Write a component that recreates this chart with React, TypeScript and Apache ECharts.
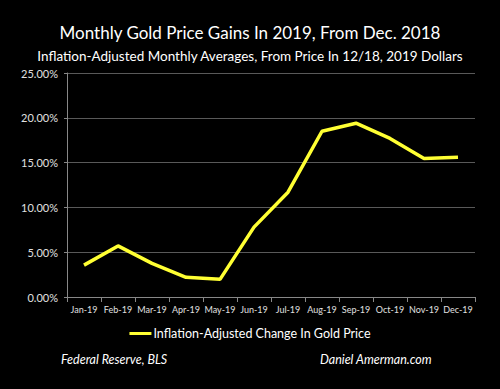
import React, { useEffect, useRef } from "react";
import * as echarts from "echarts";

const months = ["Jan-19","Feb-19","Mar-19","Apr-19","May-19","Jun-19","Jul-19","Aug-19","Sep-19","Oct-19","Nov-19","Dec-19"];
const gains = [3.56, 5.7, 3.75, 2.2, 1.97, 7.8, 11.7, 18.5, 19.4, 17.7, 15.45, 15.6];
const seriesName = "Inflation-Adjusted Change In Gold Price";
const titleText = "Monthly Gold Price Gains In 2019, From Dec. 2018";
const subtitleText = "Inflation-Adjusted Monthly Averages, From Price In 12/18, 2019 Dollars";
const sourceLeft = "Federal Reserve, BLS";
const sourceRight = "Daniel Amerman.com";

export default function App() {
  const ref = useRef<HTMLDivElement>(null);
  useEffect(() => {
    if (!ref.current) return;
    const chart = echarts.init(ref.current, undefined, { renderer: "svg" });
    const font = "Lato, 'Open Sans', sans-serif";
    chart.setOption({
      animation: false,
      backgroundColor: "#000000",
      title: [
        { text: titleText, left: "center", top: 19, textStyle: { color: "#ffffff", fontSize: 17, fontWeight: "normal", fontFamily: font } },
        { text: subtitleText, left: "center", top: 44, textStyle: { color: "#ffffff", fontSize: 13.5, fontWeight: "normal", fontFamily: font } },
      ],
      legend: {
        bottom: 44,
        left: "center",
        itemWidth: 22,
        itemHeight: 3,
        itemGap: 2,
        icon: "rect",
        textStyle: { color: "#ffffff", fontSize: 12.5, fontFamily: font, padding: [0, 0, 0, -3] },
        data: [seriesName],
      },
      grid: { left: 67, right: 25, top: 73, bottom: 92, containLabel: false },
      xAxis: {
        type: "category",
        data: months,
        boundaryGap: true,
        axisLine: { lineStyle: { color: "#888888" } },
        axisTick: { show: true, lineStyle: { color: "#888888" } },
        axisLabel: { color: "#e0e0e0", fontSize: 9, fontFamily: font, interval: 0, margin: 8 },
      },
      yAxis: {
        type: "value",
        min: 0,
        max: 25,
        interval: 5,
        axisLine: { show: true, lineStyle: { color: "#888888" } },
        axisTick: { show: true, length: 3, lineStyle: { color: "#888888" } },
        splitLine: { lineStyle: { color: "#595959", width: 1 } },
        axisLabel: { color: "#e0e0e0", fontSize: 11, fontFamily: font, margin: 9, formatter: (v: number) => v.toFixed(2) + "%" },
      },
      series: [
        {
          name: seriesName,
          type: "line",
          data: gains,
          symbol: "none",
          lineStyle: { color: "#ffff33", width: 3.5 },
          itemStyle: { color: "#ffff33" },
        },
      ],
      graphic: [
        { type: "text", left: 61, top: 353, style: { text: sourceLeft, fill: "#ffffff", font: "italic 12.5px " + font } },
        { type: "text", left: 320, top: 353, style: { text: sourceRight, fill: "#ffffff", font: "italic 12.5px " + font } },
      ],
    });
    return () => chart.dispose();
  }, []);
  return <div ref={ref} style={{ width: 500, height: 389, position: "absolute", left: 0, top: 0 }} />;
}
